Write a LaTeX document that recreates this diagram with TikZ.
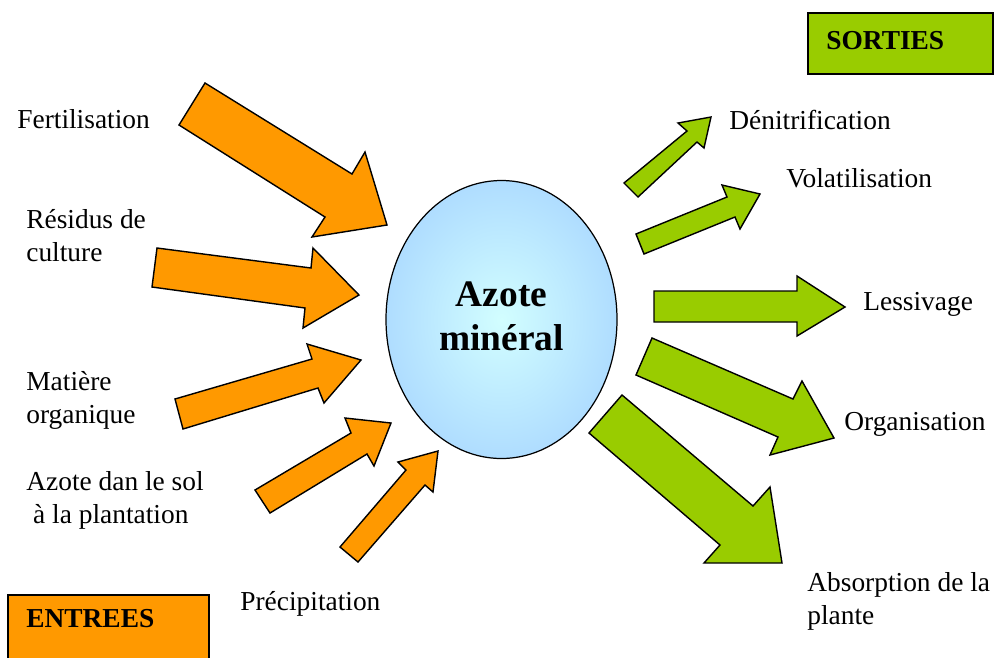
\documentclass[tikz,border=0pt]{standalone}
\usepackage{fontspec}
\setmainfont{Liberation Serif}

\definecolor{entreecol}{HTML}{FF9900}
\definecolor{sortiecol}{HTML}{99CC00}
\definecolor{azotecentre}{HTML}{D2FEFF}
\definecolor{azotemilieu}{HTML}{A8D6FF}
\definecolor{azotebord}{HTML}{99CCFF}
\pgfdeclareradialshading{azoteshade}{\pgfpoint{0bp}{0bp}}{color(0bp)=(azotecentre); color(30bp)=(azotemilieu); color(50bp)=(azotebord)}

\begin{document}
\begin{tikzpicture}[x=0.02cm, y=-0.02cm,
    entree/.style={draw=black, line width=0.8pt, fill=entreecol, line join=miter},
    sortie/.style={draw=black, line width=0.8pt, fill=sortiecol, line join=miter},
    texte/.style={inner sep=0pt, anchor=base west, align=left, font=\fontsize{15.6}{18.4}\selectfont},
    titre/.style={inner sep=0pt, anchor=base west, font=\fontsize{15.6}{18.4}\selectfont\bfseries}]
    \useasboundingbox (0,0) rectangle (994,657);

    % Central pool
    \coordinate (N) at (501.5,319.5);
    \draw[line width=0.7pt, shading=azoteshade] (N) ellipse [x radius=115.5, y radius=139];
    \node[inner sep=0pt, anchor=base, align=center, font=\fontsize{21.3}{25}\selectfont\bfseries] (azote) at (501.5,350) {Azote\\min\'eral};

    % Inputs
    \draw[entree] (205,83) -- (352,174) -- (365,152) -- (387,225) -- (312,237) -- (325,217) -- (179,125) -- cycle;
    \draw[entree] (157,248) -- (311,268) -- (313,248) -- (359,295) -- (303,328) -- (305,308) -- (152,287) -- cycle;
    \draw[entree] (175,399) -- (312,359) -- (307,344) -- (361,360) -- (324,403) -- (318,388) -- (183,429) -- cycle;
    \draw[entree] (255,490) -- (351,433) -- (345,418) -- (391,423) -- (374,466) -- (367,454) -- (270,513) -- cycle;
    \draw[entree] (340,547) -- (406,470) -- (398,462) -- (438,451) -- (433,492) -- (425,485) -- (358,562) -- cycle;

    % Outputs
    \draw[sortie] (624,183) -- (687,131) -- (678,123) -- (711,117) -- (704,148) -- (697,142) -- (638,197) -- cycle;
    \draw[sortie] (636,234) -- (727,197) -- (722,185) -- (760,194) -- (740,229) -- (735,217) -- (644,254) -- cycle;
    \draw[sortie] (654,291) -- (797,291) -- (797,276) -- (845,307) -- (797,336) -- (797,322) -- (654,322) -- cycle;
    \draw[sortie] (652,338) -- (793,399) -- (802,381) -- (834,438) -- (770,455) -- (778,437) -- (636,375) -- cycle;
    \draw[sortie] (622,395) -- (753,506) -- (770,487) -- (782,563) -- (704,563) -- (720,545) -- (589,433) -- cycle;

    % Input labels
    \node[texte] (fertilisation) at (17,128) {Fertilisation};
    \node[texte] (residus) at (26,261) {R\'esidus de\\culture};
    \node[texte] (matiere) at (26,423) {Mati\`ere\\organique};
    \node[texte] (azotesol) at (26,523) {Azote dan le sol\\\ \`a la plantation};
    \node[texte] (precipitation) at (240,610) {Pr\'ecipitation};

    % Output labels
    \node[texte] (denitrification) at (729,129) {D\'enitrification};
    \node[texte] (volatilisation) at (786,187) {Volatilisation};
    \node[texte] (lessivage) at (863,310) {Lessivage};
    \node[texte] (organisation) at (844,430) {Organisation};
    \node[texte] (absorption) at (807,624) {Absorption de la\\plante};

    % Legend boxes
    \draw[line width=0.8pt, fill=sortiecol] (808,13) rectangle (993,74);
    \node[titre] (sorties) at (826,49) {SORTIES};
    \draw[line width=0.8pt, fill=entreecol] (8,595) rectangle (209,670);
    \node[titre] (entrees) at (26,627) {ENTREES};
\end{tikzpicture}
\end{document}
